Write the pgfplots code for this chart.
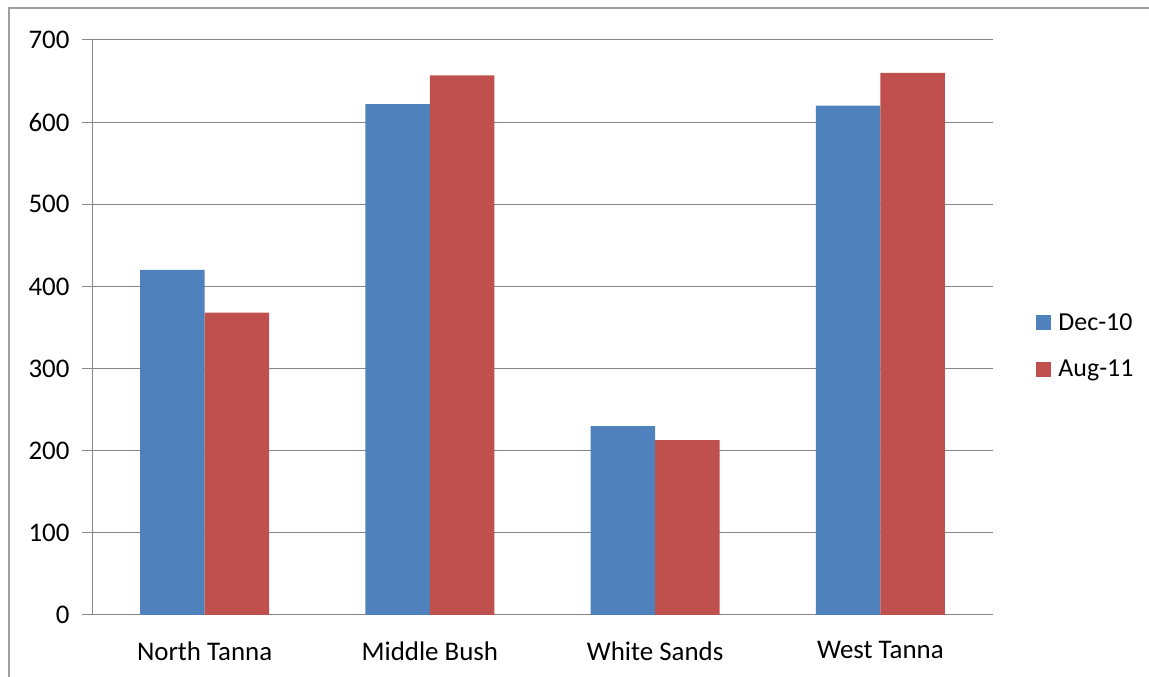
\documentclass[border=0pt]{standalone}
\usepackage{pgfplots}
\pgfplotsset{compat=1.18}
\usepackage{fontspec}
\setmainfont{Carlito}
\definecolor{dblue}{HTML}{4F81BD}
\definecolor{dred}{HTML}{C0504D}
\definecolor{gridgray}{HTML}{868686}
\begin{document}
\begin{tikzpicture}[x=1bp,y=1bp]
\useasboundingbox (0,0) rectangle (1149,677);
\draw[gridgray!80,line width=1.5bp] (9,0) -- (9,669) -- (1149,669);
\begin{axis}[
  at={(92bp,62bp)}, anchor=south west,
  scale only axis, width=901bp, height=575bp,
  ybar=0pt, bar width=64.5bp,
  xmin=-0.5, xmax=3.5, ymin=0, ymax=700,
  xtick={0,1,2,3},
  xticklabels={North Tanna, Middle Bush, White Sands, West Tanna},
  extra x ticks={-0.5,0.5,1.5,2.5,3.5},
  extra x tick labels={},
  extra x tick style={major tick length=8bp, tick style={gridgray, line width=1bp}},
  ytick={0,100,...,700},
  axis x line*=bottom, axis y line*=left,
  axis line style={gridgray, line width=1bp},
  ymajorgrids, grid style={gridgray, line width=1bp},
  x tick style={draw=none},
  y tick style={gridgray, line width=1bp},
  tick align=outside, major tick length=10bp,
  tick label style={font=\fontsize{27}{32}\selectfont, text=black},
  /pgf/number format/assume math mode=true,
  yticklabel style={xshift=-9bp},
  xticklabel style={yshift=-13bp},
  legend style={draw=none, at={(1.048,0.468)}, anchor=west,
    font=\fontsize{26}{31}\selectfont, row sep=24bp, inner sep=0pt,
    nodes={inner xsep=7bp}},
  legend cell align=left,
  legend image code/.code={\fill[#1] (0bp,-7.5bp) rectangle (15bp,7.5bp);},
]
\addplot[fill=dblue, draw=none] coordinates {(0,420) (1,622) (2,230) (3,620)};
\addplot[fill=dred, draw=none] coordinates {(0,368) (1,657) (2,213) (3,660)};
\legend{Dec-10, Aug-11}
\end{axis}
\end{tikzpicture}
\end{document}
